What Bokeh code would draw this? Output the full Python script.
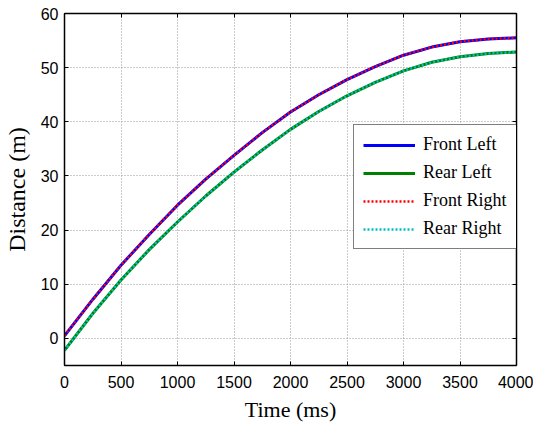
from bokeh.plotting import figure
from bokeh.models import (Range1d, FixedTicker, LinearAxis, Legend, LegendItem,
                          CustomLabelingPolicy)
from bokeh.embed import file_html
from bokeh.resources import INLINE

# ---- data ----
time_ms = [0, 250, 500, 750, 1000, 1250, 1500, 1750, 2000, 2250, 2500,
           2750, 3000, 3250, 3500, 3750, 4000]
front_left = [0.5, 7.2, 13.5, 19.2, 24.6, 29.4, 33.8, 38.0, 41.8, 45.0, 47.8,
              50.2, 52.3, 53.8, 54.8, 55.3, 55.5]
rear_left = [-2.2, 4.6, 10.8, 16.4, 21.5, 26.3, 30.7, 34.8, 38.6, 41.9, 44.8,
             47.3, 49.4, 51.0, 52.0, 52.6, 52.9]
front_right = [0.5, 7.2, 13.5, 19.2, 24.6, 29.4, 33.8, 38.0, 41.8, 45.0, 47.8,
               50.2, 52.3, 53.8, 54.8, 55.3, 55.5]
rear_right = [-2.2, 4.6, 10.8, 16.4, 21.5, 26.3, 30.7, 34.8, 38.6, 41.9, 44.8,
              47.3, 49.4, 51.0, 52.0, 52.6, 52.9]

x_ticks = [0, 500, 1000, 1500, 2000, 2500, 3000, 3500, 4000]
y_ticks = [0, 10, 20, 30, 40, 50, 60]
series_labels = ["Front Left", "Rear Left", "Front Right", "Rear Right"]

p = figure(width=533, height=427, output_backend="svg", toolbar_location=None,
           x_range=Range1d(0, 4000), y_range=Range1d(-5, 60),
           min_border_left=63, min_border_right=17, min_border_top=13,
           min_border_bottom=62)
p.background_fill_color = "white"
p.border_fill_color = "white"
p.outline_line_color = "black"
p.outline_line_width = 1

for ax, ticks in ((p.xaxis[0], x_ticks), (p.yaxis[0], y_ticks)):
    ax.ticker = FixedTicker(ticks=ticks)
    ax.major_tick_in = 4
    ax.major_tick_out = 0
    ax.minor_tick_line_color = None
    ax.axis_line_color = "black"
    ax.axis_line_width = 1.5
    ax.major_tick_line_color = "black"
    ax.major_label_text_font = "Liberation Sans"
    ax.major_label_text_font_size = "16px"
    ax.major_label_text_color = "black"
    ax.axis_label_text_font = "Liberation Serif"
    ax.axis_label_text_font_style = "normal"
    ax.axis_label_text_color = "black"

p.xaxis.axis_label = "Time (ms)"
p.xaxis.axis_label_text_font_size = "22px"
p.xaxis.major_label_standoff = 10
p.xaxis.axis_label_standoff = 6
p.yaxis.axis_label = "Distance (m)"
p.yaxis.axis_label_text_font_size = "24px"
p.yaxis.major_label_standoff = 6
p.yaxis.axis_label_standoff = 8

# ticks on top and right (box), with no labels
no_labels = "for (const i of Array.from(indices)) indices.unset(i)"
top_ax = LinearAxis(ticker=FixedTicker(ticks=x_ticks),
                    major_label_policy=CustomLabelingPolicy(code=no_labels),
                    major_tick_in=4, major_tick_out=0, minor_tick_line_color=None,
                    major_label_standoff=0, axis_line_color="black", axis_line_width=1.5)
right_ax = LinearAxis(ticker=FixedTicker(ticks=y_ticks),
                      major_label_policy=CustomLabelingPolicy(code=no_labels),
                      major_tick_in=4, major_tick_out=0, minor_tick_line_color=None,
                      major_label_standoff=0, axis_line_color="black", axis_line_width=1.5)
p.add_layout(top_ax, "above")
p.add_layout(right_ax, "right")

p.xgrid[0].ticker = FixedTicker(ticks=x_ticks)
p.ygrid[0].ticker = FixedTicker(ticks=y_ticks)
for g in (p.xgrid[0], p.ygrid[0]):
    g.grid_line_color = "#999999"
    g.grid_line_dash = "1 2"
    g.grid_line_width = 1

r1 = p.line(time_ms, front_left, line_color="#0000FF", line_width=3)
r2 = p.line(time_ms, rear_left, line_color="#008000", line_width=3)
r3 = p.line(time_ms, front_right, line_color="#FF0000", line_width=2.5, line_dash="2 2")
r4 = p.line(time_ms, rear_right, line_color="#00BFBF", line_width=2.5, line_dash="2 2")

legend = Legend(items=[LegendItem(label=series_labels[0], renderers=[r1]),
                       LegendItem(label=series_labels[1], renderers=[r2]),
                       LegendItem(label=series_labels[2], renderers=[r3]),
                       LegendItem(label=series_labels[3], renderers=[r4])],
                location=(289, 116), orientation="vertical",
                label_text_font="Liberation Serif", label_text_font_size="18px",
                label_text_color="black",
                glyph_width=52, glyph_height=20, label_height=20, label_standoff=8,
                spacing=7, padding=9, margin=0,
                border_line_color="black", border_line_width=1,
                background_fill_color="white", background_fill_alpha=1)
p.add_layout(legend)

open("out.html", "w").write(file_html(p, INLINE))
